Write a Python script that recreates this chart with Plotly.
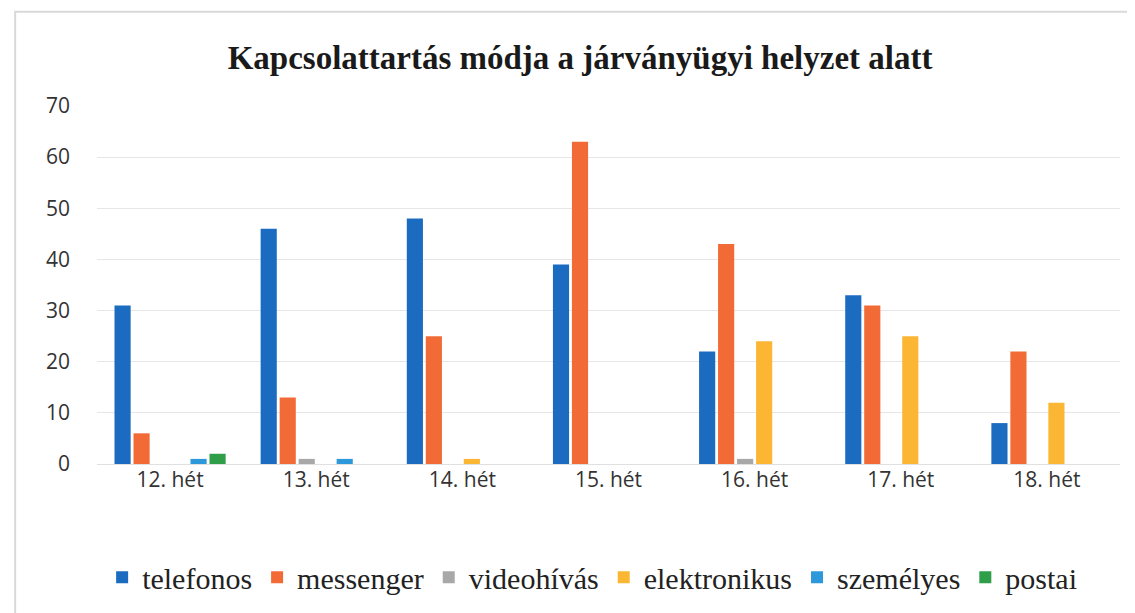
import plotly.graph_objects as go

weeks = ["12. hét", "13. hét", "14. hét", "15. hét", "16. hét", "17. hét", "18. hét"]
telefonos = [31, 46, 48, 39, 22, 33, 8]
messenger = [6, 13, 25, 63, 43, 31, 22]
videohivas = [0, 1, 0, 0, 1, 0, 0]
elektronikus = [0, 0, 1, 0, 24, 25, 12]
szemelyes = [1, 1, 0, 0, 0, 0, 0]
postai = [2, 0, 0, 0, 0, 0, 0]

series = [
    ("telefonos", telefonos, "#1B6CC1"),
    ("messenger", messenger, "#F26B36"),
    ("videohívás", videohivas, "#A8A8A8"),
    ("elektronikus", elektronikus, "#FBB634"),
    ("személyes", szemelyes, "#2D98DA"),
    ("postai", postai, "#2E9E48"),
]

fig = go.Figure()
for name, vals, color in series:
    fig.add_trace(go.Bar(name=name, x=weeks, y=vals, marker_color=color, marker_line_width=0))

fig.update_layout(
    width=1135, height=613,
    paper_bgcolor="white", plot_bgcolor="white",
    margin=dict(l=89, r=23, t=98, b=157, autoexpand=False),
    barmode="group", bargap=0.22, bargroupgap=0.15,
    title=dict(text="<b>Kapcsolattartás módja a járványügyi helyzet alatt</b>",
               x=0.504, xanchor="center", y=0.92, yanchor="middle",
               font=dict(family="Liberation Serif", size=33, color="#1a1a1a")),
    legend=dict(orientation="h", x=0.484, xanchor="center", y=-0.316, yanchor="middle",
                font=dict(family="Liberation Serif", size=30, color="#222222"),
                itemwidth=30, traceorder="normal", itemclick=False),
    showlegend=True,
    shapes=[dict(type="rect", xref="paper", yref="paper", x0=-0.08, x1=1.04, y0=-0.6, y1=1.263,
                 line=dict(color="#D9D9D9", width=2), layer="below")],
)
fig.update_yaxes(range=[0, 70], dtick=10, showgrid=True, gridcolor="#E6E6E6", gridwidth=1,
                 zeroline=True, zerolinecolor="#E0E0E0", zerolinewidth=1,
                 tickfont=dict(family="Open Sans", size=21, color="#333333"), ticks="",
                 ticklabelstandoff=26, fixedrange=True)
fig.update_xaxes(showline=False, tickfont=dict(family="Open Sans", size=21, color="#333333"),
                 ticks="", ticklabelstandoff=1, fixedrange=True)

fig.write_html("out.html")
